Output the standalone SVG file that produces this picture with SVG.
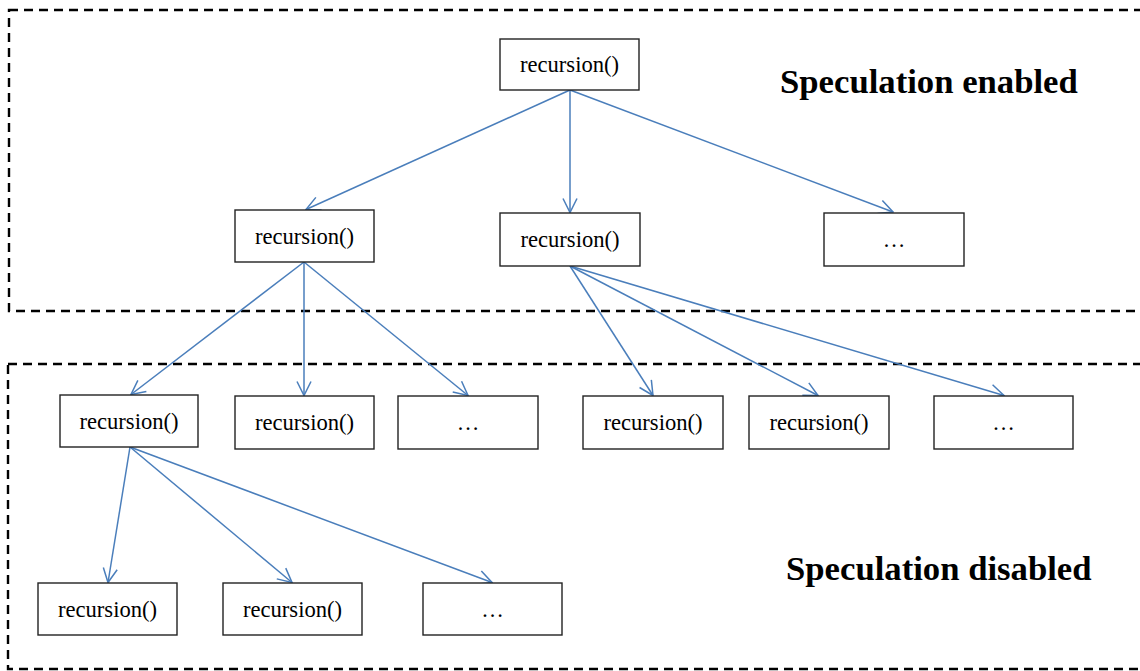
<svg xmlns="http://www.w3.org/2000/svg" width="1140" height="671" viewBox="0 0 1140 671">
  <style>
    .region { fill: none; stroke: #000; stroke-width: 2.4; stroke-dasharray: 9 6; }
    .node rect { fill: #fff; stroke: #222; stroke-width: 1.4; }
    .node text { font-family: "Liberation Serif", "Times New Roman", serif; font-size: 22.6px; fill: #000; text-anchor: middle; }
    .title { font-family: "Liberation Serif", "Times New Roman", serif; font-size: 34.7px; font-weight: bold; fill: #000; }
    .edge { fill: none; stroke: #4a7ebb; stroke-width: 1.5; marker-end: url(#vhead); }
  </style>
  <defs>
    <marker id="vhead" viewBox="0 0 16 16" refX="15" refY="8" markerWidth="16" markerHeight="16" markerUnits="userSpaceOnUse" orient="auto">
      <path d="M1 1 L15 8 L1 15" fill="none" stroke="#4a7ebb" stroke-width="1.5"/>
    </marker>
  </defs>

  <!-- dashed regions -->
  <g id="regions">
    <rect class="region" x="9" y="10" width="1140" height="301"/>
    <rect class="region" x="8" y="364" width="1140" height="305"/>
  </g>

  <text class="title" x="780" y="92.5">Speculation enabled</text>
  <text class="title" x="786" y="580">Speculation disabled</text>

  <!-- connectors -->
  <g id="connectors">
    <line class="edge" x1="570" y1="90" x2="306" y2="209.5"/>
    <line class="edge" x1="570" y1="90" x2="570" y2="212.5"/>
    <line class="edge" x1="570" y1="90" x2="893" y2="212"/>

    <line class="edge" x1="304" y1="262" x2="131" y2="394.5"/>
    <line class="edge" x1="304" y1="262" x2="304" y2="395.5"/>
    <line class="edge" x1="304" y1="262" x2="468" y2="395.5"/>

    <line class="edge" x1="570" y1="266" x2="653" y2="395.5"/>
    <line class="edge" x1="570" y1="266" x2="818" y2="395.5"/>
    <line class="edge" x1="570" y1="266" x2="1004" y2="395.5"/>

    <line class="edge" x1="130" y1="447" x2="108" y2="582.5"/>
    <line class="edge" x1="130" y1="447" x2="292" y2="582.5"/>
    <line class="edge" x1="130" y1="447" x2="492" y2="582.5"/>
  </g>

  <!-- speculative level -->
  <g id="root" class="node"><rect x="500" y="39" width="139" height="51"/><text x="569.5" y="72">recursion()</text></g>
  <g id="spec-left" class="node"><rect x="235" y="210" width="139" height="52"/><text x="304.5" y="244">recursion()</text></g>
  <g id="spec-mid" class="node"><rect x="500" y="213" width="140" height="53"/><text x="570" y="247">recursion()</text></g>
  <g id="spec-more" class="node"><rect x="824" y="213" width="140" height="53"/><text x="894" y="247">…</text></g>

  <!-- non-speculative level -->
  <g id="call-1" class="node"><rect x="60" y="395" width="138" height="52"/><text x="129" y="429">recursion()</text></g>
  <g id="call-2" class="node"><rect x="235" y="396" width="139" height="53"/><text x="304.5" y="430">recursion()</text></g>
  <g id="call-3" class="node"><rect x="398" y="396" width="140" height="53"/><text x="468" y="430">…</text></g>
  <g id="call-4" class="node"><rect x="583" y="396" width="140" height="53"/><text x="653" y="430">recursion()</text></g>
  <g id="call-5" class="node"><rect x="749" y="396" width="140" height="53"/><text x="819" y="430">recursion()</text></g>
  <g id="call-6" class="node"><rect x="934" y="396" width="139" height="53"/><text x="1003.5" y="430">…</text></g>

  <g id="call-7" class="node"><rect x="38" y="583" width="139" height="52"/><text x="107.5" y="617">recursion()</text></g>
  <g id="call-8" class="node"><rect x="223" y="583" width="139" height="52"/><text x="292.5" y="617">recursion()</text></g>
  <g id="call-9" class="node"><rect x="423" y="583" width="139" height="52"/><text x="492.5" y="617">…</text></g>
</svg>
